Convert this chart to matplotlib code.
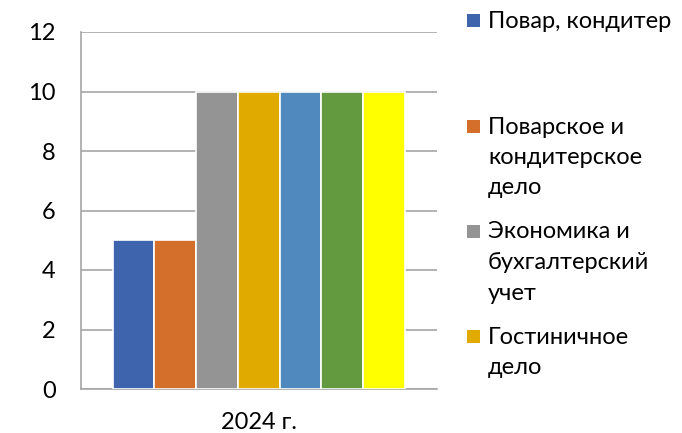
import matplotlib
matplotlib.use("Agg")
import matplotlib.pyplot as plt
from matplotlib.patches import Rectangle

category = "2024 г."
values = [5, 5, 10, 10, 10, 10, 10]
colors = ["#3D64AD", "#D36E2B", "#949494", "#E0AA00", "#4F89BD", "#639A3F", "#FFFF00"]
legend_labels = [
    ["Повар, кондитер"],
    ["Поварское и", "кондитерское", "дело"],
    ["Экономика и", "бухгалтерский", "учет"],
    ["Гостиничное", "дело"],
]
yticks = [0, 2, 4, 6, 8, 10, 12]

plt.rcParams['font.family'] = ['Lato', 'DejaVu Sans']
FS = 17
W, H = 682, 433
fig = plt.figure(figsize=(W/100, H/100), dpi=100)
ax = fig.add_axes([80.7/W, (H-389)/H, 356/W, 357/H])

n = len(values)
group = 0.82
bw = group / n
for i, (v, c) in enumerate(zip(values, colors)):
    x = -group/2 + bw*(i+0.5)
    ax.bar(x, v, width=bw, color=c, edgecolor="white", linewidth=1.2, zorder=3)

ax.set_xlim(-0.5, 0.5)
ax.set_ylim(0, 12)
ax.set_yticks(yticks)
ax.set_yticklabels([str(t) for t in yticks], fontsize=FS)
ax.set_xticks([0])
ax.set_xticklabels([category], fontsize=FS)
ax.tick_params(axis='both', length=0)
ax.tick_params(axis='y', pad=18)
ax.tick_params(axis='x', pad=16.5)
ax.yaxis.grid(True, color="#A6A6A6", linewidth=1.2, zorder=0)
ax.set_axisbelow(True)
for s in ["top", "right"]:
    ax.spines[s].set_visible(False)
ax.spines["left"].set_color("#A6A6A6")
ax.spines["bottom"].set_color("#A6A6A6")
ax.spines["left"].set_linewidth(1.2)
ax.spines["bottom"].set_linewidth(1.2)

# legend (manual, clipped like the original)
entry_y = [21, 127, 232, 337]
line_h = 30.5
for lines, c, ey in zip(legend_labels, colors, entry_y):
    fig.patches.append(Rectangle((467/W, (H-ey-6)/H), 13/W, 13/H, transform=fig.transFigure,
                                 facecolor=c, edgecolor="none"))
    for j, t in enumerate(lines):
        fig.text(488/W, (H-ey-j*line_h)/H, t, fontsize=FS, va="center", ha="left")

fig.savefig("out.png", dpi=100)
